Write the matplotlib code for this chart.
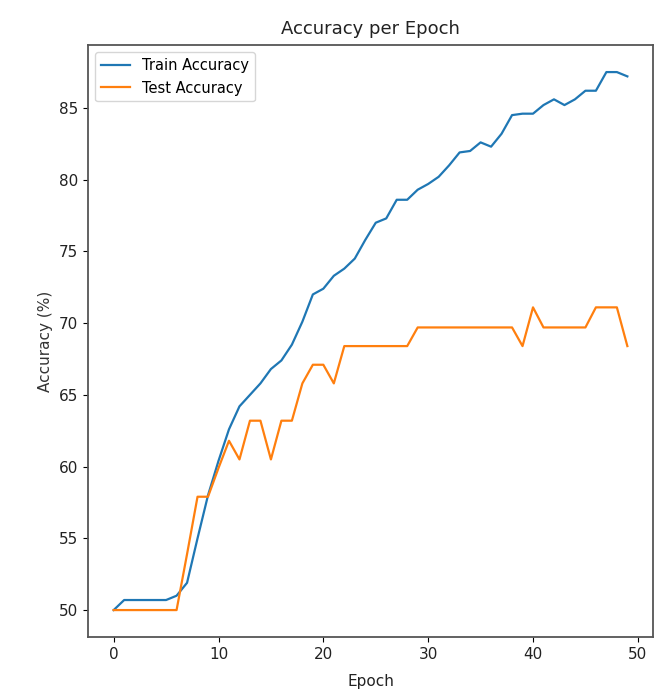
import matplotlib.pyplot as plt

plt.rcParams['font.family'] = ['DejaVu Sans']

# accuracy history per epoch (%)
epochs = list(range(50))
train_acc = [50.0, 50.7, 50.7, 50.7, 50.7, 50.7, 51.0, 51.9, 55.0, 58.0,
             60.4, 62.6, 64.2, 65.0, 65.8, 66.8, 67.4, 68.5, 70.1, 72.0,
             72.4, 73.3, 73.8, 74.5, 75.8, 77.0, 77.3, 78.6, 78.6, 79.3,
             79.7, 80.2, 81.0, 81.9, 82.0, 82.6, 82.3, 83.2, 84.5, 84.6,
             84.6, 85.2, 85.6, 85.2, 85.6, 86.2, 86.2, 87.5, 87.5, 87.2]
test_acc = [50.0, 50.0, 50.0, 50.0, 50.0, 50.0, 50.0, 53.9, 57.9, 57.9,
            59.9, 61.8, 60.5, 63.2, 63.2, 60.5, 63.2, 63.2, 65.8, 67.1,
            67.1, 65.8, 68.4, 68.4, 68.4, 68.4, 68.4, 68.4, 68.4, 69.7,
            69.7, 69.7, 69.7, 69.7, 69.7, 69.7, 69.7, 69.7, 69.7, 68.4,
            71.1, 69.7, 69.7, 69.7, 69.7, 69.7, 71.1, 71.1, 71.1, 68.4]

fig = plt.figure(figsize=(6.64, 6.95), dpi=100)
ax = fig.add_axes([0.1325, 0.0835, 0.851, 0.8515])

ax.plot(epochs, train_acc, color='#1f77b4', linewidth=1.6, label='Train Accuracy')
ax.plot(epochs, test_acc, color='#ff7f0e', linewidth=1.6, label='Test Accuracy')

ax.set_title('Accuracy per Epoch', fontsize=13, pad=8, color='#222222')
ax.set_xlabel('Epoch', fontsize=11, labelpad=9, color='#222222')
ax.set_ylabel('Accuracy (%)', fontsize=11, color='#333333')
ax.set_xticks(range(0, 51, 10))
ax.set_yticks(range(50, 86, 5))
ax.tick_params(labelsize=11, labelcolor='#222222')
ax.legend(loc='upper left', fontsize=10.5)

for s in ax.spines.values():
    s.set_color('#555555')
    s.set_linewidth(1.3)

fig.savefig('out.png', dpi=100)
